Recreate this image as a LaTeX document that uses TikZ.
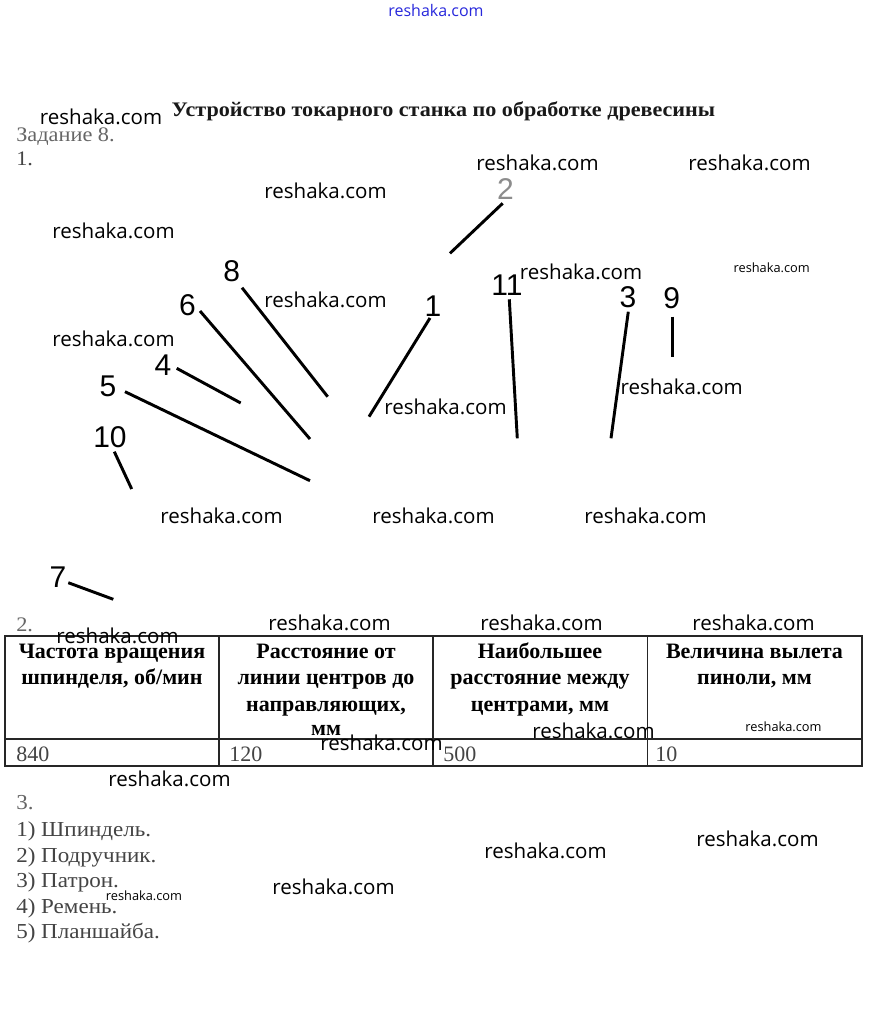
\documentclass[tikz,border=0pt]{standalone}
\usepackage{fontspec}
\setmainfont{Liberation Serif}
\newfontfamily\widefont[FakeStretch=1.08]{Liberation Serif}
\newfontfamily\titlefont[FakeStretch=1.07]{Liberation Serif}
\newfontfamily\wmfont{Open Sans}
\newfontfamily\labfont{Liberation Sans}
\definecolor{txtgray}{HTML}{444444}
\definecolor{lightgray}{HTML}{666666}
\definecolor{wmblue}{RGB}{40,40,220}
\begin{document}
\begin{tikzpicture}[x=0.75pt,y=-0.75pt,
  wm/.style={font=\wmfont\fontsize{15.4}{18}\selectfont, inner sep=0pt, text=black},
  wmsmall/.style={font=\wmfont\fontsize{9.6}{11}\selectfont, inner sep=0pt, text=black},
  numlab/.style={font=\labfont\fontsize{22.5}{26}\selectfont, inner sep=0pt},
  leader/.style={line width=2.2pt, black},
  plain/.style={font=\widefont\fontsize{15.5}{18}\selectfont, inner sep=0pt, anchor=base west},
  listtext/.style={font=\widefont\fontsize{16}{19}\selectfont, inner sep=0pt, anchor=base west, text=txtgray},
  hdr/.style={font=\bfseries\fontsize{16.5}{19.9}\selectfont, inner sep=0pt, anchor=base},
  cell/.style={font=\fontsize{16.5}{19}\selectfont, inner sep=0pt, anchor=base west, text=txtgray},
  grid/.style={line width=0.8pt, black!85}]
\useasboundingbox (0,0) rectangle (869,1036);
\fill[white] (0,0) rectangle (869,1036);

% top watermark
\node[font=\wmfont\fontsize{12}{14}\selectfont, text=wmblue, inner sep=0pt] (wtop) at (436,11) {reshaka.com};

% title and headings
\node[font=\titlefont\bfseries\fontsize{15.5}{18}\selectfont, inner sep=0pt, anchor=base, text=black!90] (title) at (443.5,116) {Устройство токарного станка по обработке древесины};
\node[plain, text=lightgray] (task) at (16,141.7) {Задание 8.};
\node[plain, text=txtgray] (s1) at (16,165) {1.};

% number labels
\node[numlab, text=black!45] (l2) at (505.5,189) {2};
\node[numlab] (l8) at (231.7,271) {8};
\node[numlab] (l6) at (187.5,305) {6};
\node[numlab] (l4) at (163,365) {4};
\node[numlab] (l5) at (108,386) {5};
\node[numlab] (l10) at (110,437) {10};
\node[numlab] (l1) at (433,306) {1};
\node[numlab] (l11) at (507,285) {11};
\node[numlab] (l3) at (628,297) {3};
\node[numlab] (l9) at (671.7,298) {9};
\node[numlab] (l7) at (58,577) {7};

% leader end points
\coordinate (a2) at (502.7,203.3);  \coordinate (b2) at (450,253.3);
\coordinate (a8) at (242,287.7);    \coordinate (b8) at (327.7,396.7);
\coordinate (a6) at (200,311);      \coordinate (b6) at (310,439);
\coordinate (a4) at (176.7,368.3);  \coordinate (b4) at (240.7,403);
\coordinate (a5) at (125,391.7);    \coordinate (b5) at (310,480.7);
\coordinate (a10) at (114.3,451.7); \coordinate (b10) at (131.7,489);
\coordinate (a1) at (430,318);      \coordinate (b1) at (369,416.7);
\coordinate (a11) at (509.3,299.3); \coordinate (b11) at (517.3,438.3);
\coordinate (a3) at (628.3,311.7);  \coordinate (b3) at (611,438.3);
\coordinate (a9) at (672.3,316.7);  \coordinate (b9) at (672.3,356.7);
\coordinate (a7) at (68.3,582.7);   \coordinate (b7) at (113.3,599.3);
\foreach \k in {2,8,6,4,5,10,1,11,3,9,7}{\draw[leader] (a\k) -- (b\k);}

% section 2 and table
\node[plain, text=lightgray] (s2) at (16,631) {2.};
\coordinate (t00) at (5,636);   \coordinate (t11) at (862,766);
\coordinate (c1t) at (219,636); \coordinate (c1b) at (219,766);
\coordinate (c2t) at (433,636); \coordinate (c2b) at (433,766);
\coordinate (c3t) at (647.7,636); \coordinate (c3b) at (647.7,766);
\coordinate (rl) at (5,739);    \coordinate (rr) at (862,739);
\draw[grid] (t00) rectangle (t11);
\draw[grid] (c1t) -- (c1b);
\draw[grid] (c2t) -- (c2b);
\draw[grid] (c3t) -- (c3b);
\draw[grid] (rl) -- (rr);
\node[hdr] (h1a) at (112,658) {Частота вращения};
\node[hdr] (h1b) at (112,684.5) {шпинделя, об/мин};
\node[hdr] (h2a) at (326,658) {Расстояние от};
\node[hdr] (h2b) at (326,684.5) {линии центров до};
\node[hdr] (h2c) at (326,711) {направляющих,};
\node[hdr] (h2d) at (326,735) {мм};
\node[hdr] (h3a) at (540,658) {Наибольшее};
\node[hdr] (h3b) at (540,684.5) {расстояние между};
\node[hdr] (h3c) at (540,711) {центрами, мм};
\node[hdr] (h4a) at (754.5,658) {Величина вылета};
\node[hdr] (h4b) at (754.5,684.5) {пиноли, мм};
\node[cell] (d1) at (16,761) {840};
\node[cell] (d2) at (229,761) {120};
\node[cell] (d3) at (443,761) {500};
\node[cell] (d4) at (655,761) {10};

% section 3
\node[listtext, text=lightgray] (s3) at (16,809) {3.};
\node[listtext] (i1) at (16,836) {1) Шпиндель.};
\node[listtext] (i2) at (16,862) {2) Подручник.};
\node[listtext] (i3) at (16,887) {3) Патрон.};
\node[listtext] (i4) at (16,913) {4) Ремень.};
\node[listtext] (i5) at (16,938) {5) Планшайба.};

% watermarks
\node[wm] (w1) at (101,117) {reshaka.com};
\node[wm] (w2) at (537.5,163) {reshaka.com};
\node[wm] (w3) at (749.5,163) {reshaka.com};
\node[wm] (w4) at (325.5,191) {reshaka.com};
\node[wm] (w5) at (113.5,231) {reshaka.com};
\node[wm] (w6) at (581,272) {reshaka.com};
\node[wmsmall] (w7) at (771.7,268) {reshaka.com};
\node[wm] (w8) at (325.5,300) {reshaka.com};
\node[wm] (w9) at (113.5,339) {reshaka.com};
\node[wm] (w10) at (681.7,387) {reshaka.com};
\node[wm] (w11) at (445.5,407) {reshaka.com};
\node[wm] (w12) at (221.5,516) {reshaka.com};
\node[wm] (w13) at (433.5,516) {reshaka.com};
\node[wm] (w14) at (645.5,516) {reshaka.com};
\node[wm] (w15) at (329.5,623) {reshaka.com};
\node[wm] (w16) at (541.5,623) {reshaka.com};
\node[wm] (w17) at (753.5,623) {reshaka.com};
\node[wm] (w18) at (117.5,636) {reshaka.com};
\node[wm] (w19) at (381.5,743) {reshaka.com};
\node[wm] (w20) at (593.5,731) {reshaka.com};
\node[wmsmall] (w21) at (783.5,727) {reshaka.com};
\node[wm] (w22) at (169.5,779) {reshaka.com};
\node[wm] (w23) at (757.5,839) {reshaka.com};
\node[wm] (w24) at (545.5,851) {reshaka.com};
\node[wm] (w25) at (333.5,887) {reshaka.com};
\node[wmsmall] (w26) at (144,896) {reshaka.com};
\end{tikzpicture}
\end{document}
